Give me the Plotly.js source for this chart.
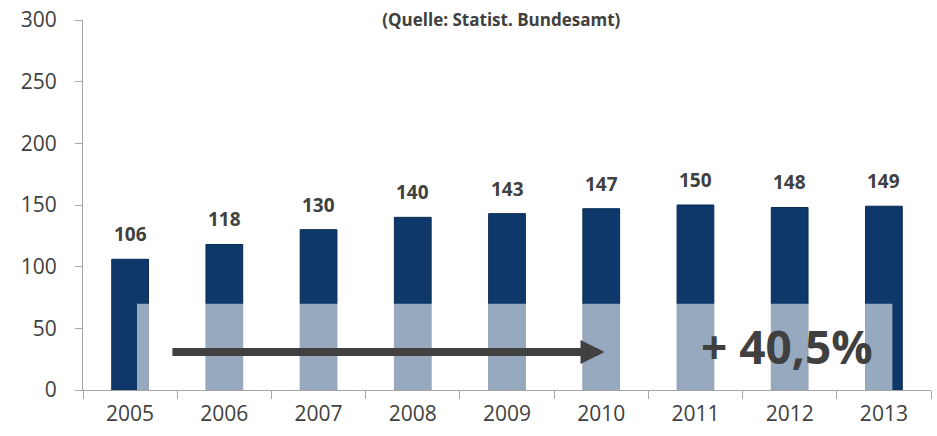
<!DOCTYPE html>
<html>
<head>
<meta charset="utf-8">
<script src="https://cdn.plot.ly/plotly-3.0.1.min.js"></script>
<style>html,body{margin:0;padding:0;background:#fff;}#chart{width:937px;height:436px;}</style>
</head>
<body>
<div id="chart"></div>
<script>
const years = ['2005','2006','2007','2008','2009','2010','2011','2012','2013'];
const values = [106, 118, 130, 140, 143, 147, 150, 148, 149];
const yTicks = [0, 50, 100, 150, 200, 250, 300];
const titleText = '(Quelle: Statist. Bundesamt)';
const growthText = '+ 40,5%';

const textColor = '#404040';
const fontFam = '"Open Sans", "DejaVu Sans", sans-serif';

const xIdx = years.map((_, i) => i);
const boundaries = years.map((_, i) => i - 0.5).concat([years.length - 0.5]);

const trace = {
  type: 'bar',
  x: xIdx,
  y: values,
  width: 0.39,
  marker: {color: '#0d3869', line: {color: '#0a2b52', width: 1}},
  hoverinfo: 'skip'
};

const labelAnnotations = xIdx.map((xi, i) => ({
  x: xi, y: values[i], xref: 'x', yref: 'y',
  text: '<b>' + values[i] + '</b>',
  showarrow: false, yanchor: 'middle', yshift: 25,
  font: {family: fontFam, size: 19, color: textColor}
}));

const layout = {
  width: 937, height: 436,
  margin: {l: 83, r: 6, t: 20, b: 46},
  paper_bgcolor: '#fff', plot_bgcolor: '#fff',
  showlegend: false,
  title: {
    text: '<b>' + titleText + '</b>',
    x: 0.535, xanchor: 'center', y: 0.953, yanchor: 'middle', yref: 'container',
    font: {family: fontFam, size: 17, color: textColor}
  },
  xaxis: {
    range: [-0.5, years.length - 0.5],
    tickmode: 'array', tickvals: xIdx, ticktext: years,
    showline: true, linecolor: '#a6a6a6', linewidth: 1,
    ticks: '', ticklabelstandoff: 5,
    minor: {tickmode: 'array', tickvals: boundaries, ticks: 'outside', ticklen: 8, tickcolor: '#a6a6a6', showgrid: false},
    tickfont: {family: fontFam, size: 21, color: textColor},
    showgrid: false, zeroline: false, fixedrange: true
  },
  yaxis: {
    range: [0, 300],
    tickmode: 'array', tickvals: yTicks,
    showline: true, linecolor: '#a6a6a6', linewidth: 1,
    ticks: 'outside', ticklen: 7, tickcolor: '#a6a6a6', ticklabelstandoff: 14,
    tickfont: {family: fontFam, size: 21, color: textColor},
    showgrid: false, zeroline: false, fixedrange: true
  },
  shapes: [{
    type: 'rect', xref: 'x', yref: 'y',
    x0: 0.073, x1: 8.09, y0: 0, y1: 70,
    fillcolor: 'rgba(255,255,255,0.57)', line: {width: 0}, layer: 'above'
  }],
  annotations: labelAnnotations.concat([
    {
      x: 5.035, y: 30.8, xref: 'x', yref: 'y',
      ax: 0.433, ay: 30.8, axref: 'x', ayref: 'y',
      showarrow: true, arrowhead: 2, arrowsize: 0.6, arrowwidth: 8,
      arrowcolor: '#404040', standoff: 0, startstandoff: 0, text: ''
    },
    {
      x: 6.97, y: 36, xref: 'x', yref: 'y',
      text: '<b>' + growthText + '</b>', showarrow: false,
      xanchor: 'center', yanchor: 'middle',
      font: {family: fontFam, size: 46, color: textColor}
    }
  ])
};

Plotly.newPlot('chart', [trace], layout, {displayModeBar: false, staticPlot: true});
</script>
</body>
</html>
